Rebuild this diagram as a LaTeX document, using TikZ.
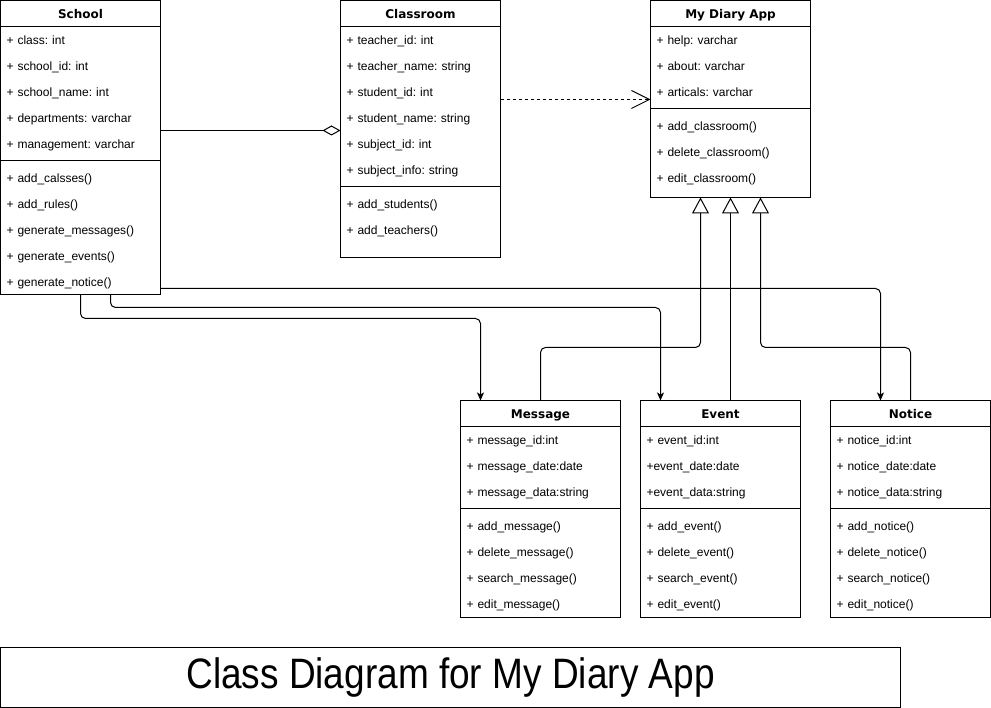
\documentclass[tikz,border=0pt]{standalone}
\usepackage{fontspec}
\setmainfont{Liberation Sans}
\newfontfamily\headfont{DejaVu Sans}
\usepackage{graphicx}
\usepackage{tikz}
\usetikzlibrary{positioning,calc}
\usetikzlibrary{arrows.meta}
\setlength{\parindent}{0pt}
\frenchspacing
\newcommand{\rowtop}[1]{\rule{0pt}{#1}}
\newcommand{\rowend}[1]{\rule[-#1]{0pt}{#1}}

\begin{document}
\begin{tikzpicture}[x=1pt, y=-1pt, line width=1pt,
         head/.style = {draw, minimum width=160pt, minimum height=26pt,
         inner sep=0pt, outer sep=0pt, text height=11pt, text depth=1pt,
         font=\fontsize{12}{14}\selectfont\headfont\bfseries},
         body/.style = {draw, minimum width=160pt, text width=148pt,
         inner xsep=6pt, inner ysep=0pt, outer sep=0pt, align=left,
         font=\fontsize{12}{26}\selectfont},
         assoc/.style = {-{Stealth[length=8pt, width=7pt, inset=2pt]},
         rounded corners=5pt},
         inherit/.style = {-{Triangle[open, length=16pt, width=17pt]},
         rounded corners=5pt},
         titlebox/.style = {draw, minimum width=900pt, minimum height=60pt,
         inner sep=0pt, outer sep=0pt, font=\fontsize{37}{40}\selectfont}
]
   \useasboundingbox (-0.5,-0.5) rectangle (990.5,707.5);

   % school
   \node[head, anchor=north west] (sc0) at (0,0) {School};
   \node[body, below=0pt of sc0] (sc1) {\rowtop{18pt}+ class: int\\
      + school\_id: int\\ + school\_name: int\\ + departments: varchar\\
      + management: varchar\rowend{12pt}};
   \node[body, below=0pt of sc1] (sc2) {\rowtop{22pt}+ add\_calsses()\\
      + add\_rules()\\ + generate\_messages()\\ + generate\_events()\\
      + generate\_notice()\rowend{8pt}};

   % classroom
   \node[head, right=180pt of sc0] (cr0) {Classroom};
   \node[body, below=0pt of cr0] (cr1) {\rowtop{18pt}+ teacher\_id: int\\
      + teacher\_name: string\\ + student\_id: int\\ + student\_name: string\\
      + subject\_id: int\\ + subject\_info: string\rowend{12pt}};
   \node[body, below=0pt of cr1] (cr2) {\rowtop{22pt}+ add\_students()\\
      + add\_teachers()\rowend{23pt}};

   % my diary app
   \node[head, right=150pt of cr0] (ap0) {My Diary App};
   \node[body, below=0pt of ap0] (ap1) {\rowtop{18pt}+ help: varchar\\
      + about: varchar\\ + articals: varchar\rowend{12pt}};
   \node[body, below=0pt of ap1] (ap2) {\rowtop{22pt}+ add\_classroom()\\
      + delete\_classroom()\\ + edit\_classroom()\rowend{15pt}};

   % message, event, notice
   \node[head, anchor=north west] (ms0) at (460,400) {Message};
   \node[body, below=0pt of ms0] (ms1) {\rowtop{18pt}+ message\_id:int\\
      + message\_date:date\\ + message\_data:string\rowend{12pt}};
   \node[body, below=0pt of ms1] (ms2) {\rowtop{22pt}+ add\_message()\\
      + delete\_message()\\ + search\_message()\\ + edit\_message()\rowend{9pt}};

   \node[head, right=20pt of ms0] (ev0) {Event};
   \node[body, below=0pt of ev0] (ev1) {\rowtop{18pt}+ event\_id:int\\
      +event\_date:date\\ +event\_data:string\rowend{12pt}};
   \node[body, below=0pt of ev1] (ev2) {\rowtop{22pt}+ add\_event()\\
      + delete\_event()\\ + search\_event()\\ + edit\_event()\rowend{9pt}};

   \node[head, right=30pt of ev0] (nt0) {Notice};
   \node[body, below=0pt of nt0] (nt1) {\rowtop{18pt}+ notice\_id:int\\
      + notice\_date:date\\ + notice\_data:string\rowend{12pt}};
   \node[body, below=0pt of nt1] (nt2) {\rowtop{22pt}+ add\_notice()\\
      + delete\_notice()\\ + search\_notice()\\ + edit\_notice()\rowend{9pt}};

   % aggregation and dependency
   \coordinate (agg) at ($(cr1.west)+(0,24)$);
   \coordinate (dep) at ($(ap1.west)+(0,32)$);
   \draw[-{Diamond[open, length=18pt, width=10pt]}] (sc1.east |- agg) -- (agg);
   \draw[dash pattern=on 3pt off 3pt, -{Straight Barb[length=18pt, width=18pt]}]
      (cr1.east |- dep) -- (dep);

   % school to message, event, notice
   \draw[assoc] (sc2.south) -- ++(0,24) -| ($(ms0.north west)+(20,0)$);
   \draw[assoc] ($(sc2.south)+(30,0)$) -- ++(0,13) -| ($(ev0.north west)+(20,0)$);
   \draw[assoc] ($(sc2.south east)+(0,-6)$) -| ($(nt0.north west)+(50,0)$);

   % generalization
   \draw[inherit] (ms0.north) -- ++(0,-53) -| ($(ap2.south)+(-30,0)$);
   \draw[inherit] (ap2.south |- ev0.north) -- (ap2.south);
   \draw[inherit] (nt0.north) -- ++(0,-53) -| ($(ap2.south)+(30,0)$);

   % title
   \node[titlebox, anchor=north west] (title) at (0,647)
      {\scalebox{1}[1.15]{Class Diagram for My Diary App}};
\end{tikzpicture}
\end{document}
